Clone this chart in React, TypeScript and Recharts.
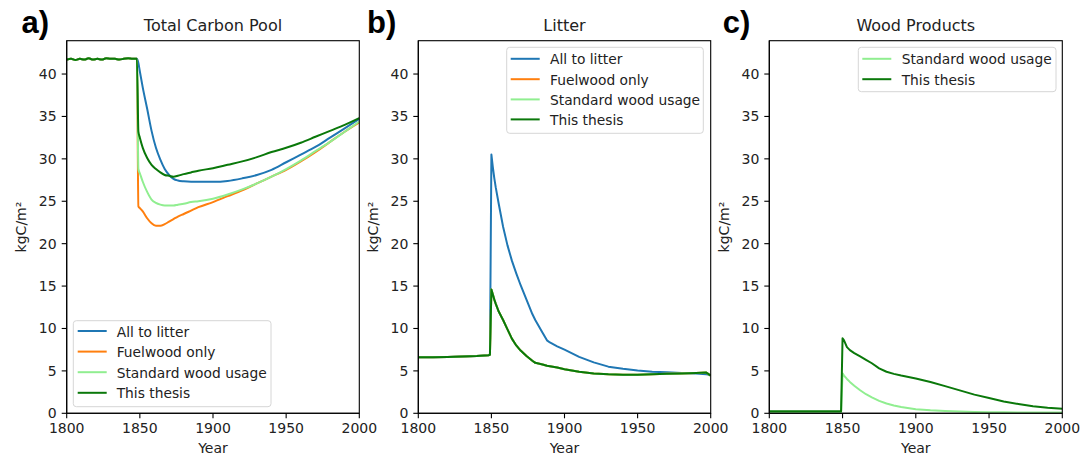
import React from 'react';
import { LineChart, Line, XAxis, YAxis } from 'recharts';

const W = 1086;
const H = 456;
const FONT = "'DejaVu Sans', sans-serif";
const TXT = '#222';

const C_BLUE = '#1f77b4';
const C_ORANGE = '#ff7f0e';
const C_LIGHT = '#90ee90';
const C_DARK = '#0a780a';

// ---------- Panel a: Total Carbon Pool ----------
const yearsA = [1800, 1803, 1806, 1809, 1812, 1815, 1818, 1821, 1824, 1827, 1830, 1833, 1836, 1839, 1842, 1845, 1848,
  1849, 1850, 1852, 1855, 1858, 1861, 1864, 1867, 1870, 1873, 1876, 1880, 1885, 1890, 1900, 1910, 1920, 1930, 1940,
  1950, 1960, 1970, 1980, 1990, 2000];
const plateauA = [41.7, 41.8, 41.65, 41.8, 41.7, 41.85, 41.7, 41.8, 41.7, 41.85, 41.8, 41.8, 41.7, 41.8, 41.85, 41.8, 41.8];
const totalAllToLitter = [...plateauA,
  41.3, 40.3, 38.4, 35.9, 33.3, 31.3, 29.9, 28.8, 28.1, 27.65, 27.45, 27.35, 27.3, 27.3, 27.3, 27.4, 27.7, 28.1, 28.7,
  29.6, 30.5, 31.4, 32.5, 33.6, 34.7];
const totalFuelwood = [...plateauA,
  24.4, 24.2, 23.8, 23.0, 22.4, 22.1, 22.1, 22.3, 22.6, 22.9, 23.2, 23.5, 23.9, 24.3, 24.9, 25.6, 26.3, 27.1, 27.9,
  28.7, 29.7, 30.8, 32.0, 33.2, 34.3];
const totalStandard = [...plateauA,
  28.8, 28.3, 27.3, 26.1, 25.2, 24.8, 24.6, 24.5, 24.5, 24.5, 24.6, 24.7, 24.9, 25.0, 25.3, 25.8, 26.4, 27.1, 27.9,
  28.8, 29.8, 30.9, 32.0, 33.2, 34.4];
const totalThesis = [...plateauA,
  33.2, 32.5, 31.3, 30.1, 29.3, 28.8, 28.4, 28.1, 28.0, 27.9, 28.0, 28.2, 28.4, 28.6, 28.9, 29.3, 29.7, 30.2, 30.8,
  31.3, 31.9, 32.6, 33.3, 34.0, 34.8];

// ---------- Panel b: Litter ----------
const yearsB = [1800, 1810, 1820, 1830, 1840, 1848, 1849, 1850, 1851, 1852, 1853, 1855, 1858, 1861, 1864, 1867, 1870,
  1874, 1878, 1880, 1885, 1888, 1890, 1895, 1900, 1910, 1920, 1930, 1940, 1950, 1960, 1970, 1980, 1990, 1997, 2000];
const preB = [6.6, 6.62, 6.65, 6.7, 6.75, 6.85, 6.9];
const litterAllToLitter = [...preB,
  30.5, 29.0, 27.7, 26.6, 24.7, 22.0, 19.8, 18.0, 16.5, 15.1, 13.4, 11.7, 11.0, 9.5, 8.6, 8.35, 7.9, 7.5, 6.65, 6.0,
  5.5, 5.25, 5.05, 4.9, 4.85, 4.75, 4.7, 4.6, 4.5];
const litterThesis = [...preB,
  14.6, 14.0, 13.4, 12.9, 12.0, 11.0, 9.9, 8.8, 8.0, 7.4, 6.75, 6.2, 5.95, 5.75, 5.6, 5.55, 5.4, 5.2, 4.9, 4.7,
  4.6, 4.55, 4.55, 4.6, 4.65, 4.7, 4.75, 4.8, 4.45];
const litterFuelwood = litterThesis;
const litterStandard = litterThesis;

// ---------- Panel c: Wood Products ----------
const yearsC = [1800, 1820, 1840, 1848, 1849, 1850, 1851, 1853, 1855, 1858, 1862, 1866, 1870, 1875, 1880, 1885, 1890,
  1900, 1910, 1920, 1930, 1940, 1950, 1960, 1970, 1980, 1990, 2000];
const woodStandard = [0.1, 0.1, 0.1, 0.1, 0.1, 4.7, 4.45, 4.05, 3.7, 3.25, 2.72, 2.25, 1.87, 1.47, 1.15, 0.93, 0.75,
  0.48, 0.35, 0.26, 0.2, 0.16, 0.13, 0.12, 0.1, 0.1, 0.1, 0.1];
const woodThesis = [0.25, 0.25, 0.25, 0.25, 0.25, 8.85, 8.6, 7.8, 7.45, 7.1, 6.7, 6.3, 5.9, 5.3, 4.9, 4.65, 4.45,
  4.1, 3.7, 3.2, 2.7, 2.2, 1.8, 1.4, 1.1, 0.82, 0.65, 0.55];

const xTicks = [1800, 1850, 1900, 1950, 2000];
const yTicks = [0, 5, 10, 15, 20, 25, 30, 35, 40];
const Y_MAX = 43.93;

const rowsA = yearsA.map((year, i) => ({
  year, allToLitter: totalAllToLitter[i], fuelwood: totalFuelwood[i], standard: totalStandard[i], thesis: totalThesis[i],
}));
const rowsB = yearsB.map((year, i) => ({
  year, allToLitter: litterAllToLitter[i], fuelwood: litterFuelwood[i], standard: litterStandard[i], thesis: litterThesis[i],
}));
const rowsC = yearsC.map((year, i) => ({ year, standard: woodStandard[i], thesis: woodThesis[i] }));

const SERIES_ALL = [
  { key: 'allToLitter', name: 'All to litter', color: C_BLUE },
  { key: 'fuelwood', name: 'Fuelwood only', color: C_ORANGE },
  { key: 'standard', name: 'Standard wood usage', color: C_LIGHT },
  { key: 'thesis', name: 'This thesis', color: C_DARK },
];
const SERIES_C = SERIES_ALL.slice(2);

const PLOT_TOP = 40.7;
const PLOT_BOTTOM = 413.3;
const Y_AXIS_W = 60;
const X_AXIS_H = 30;

type PanelCfg = {
  left: number; right: number; title: string; letter: string; letterX: number; ylabelX: number;
  rows: any[]; series: { key: string; name: string; color: string }[]; curve: 'monotone' | 'linear';
  legend: { x: number; y: number; w: number; h: number; lineX: number; textX: number; rowY: number[] };
};

const panels: PanelCfg[] = [
  {
    left: 66.7, right: 359.3, title: 'Total Carbon Pool', letter: 'a)', letterX: 21.5, ylabelX: 21,
    rows: rowsA, series: SERIES_ALL, curve: 'monotone',
    legend: { x: 73.3, y: 320.7, w: 197.7, h: 86, lineX: 77.7, textX: 116.7, rowY: [331, 351.6, 372.2, 392.8] },
  },
  {
    left: 418.3, right: 710.7, title: 'Litter', letter: 'b)', letterX: 367, ylabelX: 372.5,
    rows: rowsB, series: SERIES_ALL, curve: 'linear',
    legend: { x: 506.7, y: 47.3, w: 196.6, h: 86, lineX: 510.7, textX: 550, rowY: [58.8, 79.2, 99.4, 119.4] },
  },
  {
    left: 769.3, right: 1062.3, title: 'Wood Products', letter: 'c)', letterX: 722.8, ylabelX: 723.5,
    rows: rowsC, series: SERIES_C, curve: 'linear',
    legend: { x: 858.3, y: 47.3, w: 197.7, h: 44.4, lineX: 862.3, textX: 901.7, rowY: [58.8, 79.2] },
  },
];

const tickStyle = { fontSize: 14, fontFamily: FONT, fill: TXT };

function Panel({ cfg }: { cfg: PanelCfg }) {
  return (
    <div style={{ position: 'absolute', left: 0, top: 0, width: W, height: H }}>
      <LineChart
        width={W}
        height={H}
        data={cfg.rows}
        margin={{ top: PLOT_TOP, right: W - cfg.right, bottom: H - PLOT_BOTTOM - X_AXIS_H, left: cfg.left - Y_AXIS_W }}
      >
        <XAxis
          dataKey="year"
          type="number"
          domain={[1800, 2000]}
          ticks={xTicks}
          interval={0}
          allowDataOverflow
          height={X_AXIS_H}
          tickSize={5}
          tickMargin={5}
          axisLine={{ stroke: '#000', strokeWidth: 1.1 }}
          tickLine={{ stroke: '#000', strokeWidth: 1.1 }}
          tick={tickStyle}
        />
        <YAxis
          type="number"
          domain={[0, Y_MAX]}
          ticks={yTicks}
          interval={0}
          allowDataOverflow
          width={Y_AXIS_W}
          tickSize={5}
          tickMargin={5}
          axisLine={{ stroke: '#000', strokeWidth: 1.1 }}
          tickLine={{ stroke: '#000', strokeWidth: 1.1 }}
          tick={tickStyle}
        />
        {cfg.series.map((s) => (
          <Line
            key={s.key}
            type={cfg.curve}
            dataKey={s.key}
            name={s.name}
            stroke={s.color}
            strokeWidth={2}
            strokeLinejoin="round"
            dot={false}
            activeDot={false}
            isAnimationActive={false}
          />
        ))}
      </LineChart>
    </div>
  );
}

function Overlay() {
  return (
    <svg width={W} height={H} style={{ position: 'absolute', left: 0, top: 0, pointerEvents: 'none' }}>
      {panels.map((p, idx) => {
        const cx = (p.left + p.right) / 2;
        const cy = (PLOT_TOP + PLOT_BOTTOM) / 2;
        const lg = p.legend;
        return (
          <g key={idx}>
            <rect x={p.left} y={PLOT_TOP} width={p.right - p.left} height={PLOT_BOTTOM - PLOT_TOP}
              fill="none" stroke="#000" strokeWidth={1.1} />
            <text x={cx} y={31} textAnchor="middle" fontFamily={FONT} fontSize={16} fill={TXT}>{p.title}</text>
            <text x={p.letterX} y={32.7} fontFamily="'Liberation Sans', Arial, sans-serif" fontWeight="bold"
              fontSize={31} fill="#000">{p.letter}</text>
            <text x={cx} y={452.5} textAnchor="middle" fontFamily={FONT} fontSize={14} fill={TXT}>Year</text>
            <text x={p.ylabelX} y={cy} textAnchor="middle" dominantBaseline="central" fontFamily={FONT} fontSize={14}
              fill={TXT} transform={`rotate(-90 ${p.ylabelX} ${cy})`}>kgC/m²</text>
            <rect x={lg.x} y={lg.y} width={lg.w} height={lg.h} rx={3} ry={3} fill="#fff" fillOpacity={0.8}
              stroke="#d6d6d6" strokeWidth={1} />
            {p.series.map((s, i) => (
              <g key={s.key}>
                <line x1={lg.lineX} x2={lg.lineX + 29} y1={lg.rowY[i]} y2={lg.rowY[i]} stroke={s.color} strokeWidth={2} />
                <text x={lg.textX} y={lg.rowY[i] + 5.5} fontFamily={FONT} fontSize={13.8} fill={TXT}>{s.name}</text>
              </g>
            ))}
          </g>
        );
      })}
    </svg>
  );
}

export default function App() {
  return (
    <div style={{ position: 'absolute', left: 0, top: 0, width: W, height: H, background: '#fff', overflow: 'hidden' }}>
      {panels.map((p, i) => (
        <Panel key={i} cfg={p} />
      ))}
      <Overlay />
    </div>
  );
}
